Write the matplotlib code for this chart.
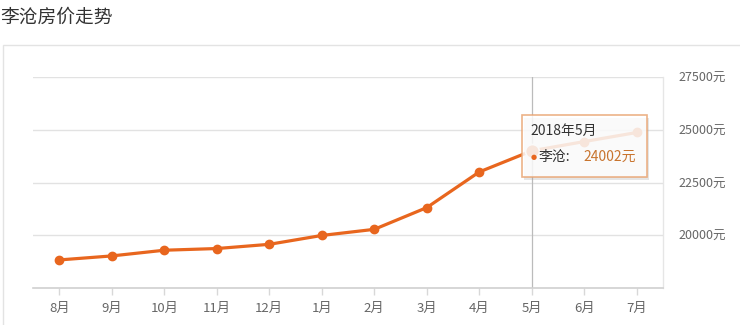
import matplotlib
matplotlib.use("Agg")
import matplotlib.pyplot as plt
from matplotlib.patches import Rectangle, FancyBboxPatch

plt.rcParams['font.family'] = ['Noto Sans CJK SC', 'DejaVu Sans']

title = "李沧房价走势"
months = ["8月", "9月", "10月", "11月", "12月", "1月", "2月", "3月", "4月", "5月", "6月", "7月"]
prices = [18830, 19020, 19290, 19370, 19570, 19990, 20280, 21310, 23000, 24002, 24440, 24870]
y_ticks = [20000, 22500, 25000, 27500]
y_tick_labels = [f"{v}元" for v in y_ticks]
hover_index = 9
hover_title = "2018年5月"
series_name = "李沧"

W, H = 740, 325
fig = plt.figure(figsize=(W / 100, H / 100), dpi=100)
fig.patch.set_facecolor("white")

def fx(px):
    return px / W

def fy(py):
    return 1 - py / H

# Panel frame
fig.add_artist(Rectangle((fx(3), fy(330)), fx(745) - fx(3), fy(45) - fy(330),
                         transform=fig.transFigure, fill=False,
                         edgecolor="#e3e3e3", linewidth=1.0))

fig.text(fx(0), fy(17), title, fontsize=13.5, color="#333333", va="center", ha="left")

left, right, top, bottom = 33, 663, 77, 288
ax = fig.add_axes([fx(left), fy(bottom), fx(right) - fx(left), fy(top) - fy(bottom)])
ax.set_facecolor("white")

x = list(range(len(months)))
color = "#e8661e"
ax.plot(x, prices, color=color, linewidth=2.3, marker="o", markersize=6,
        markerfacecolor=color, markeredgecolor=color, zorder=3, solid_capstyle="round")

ax.set_xlim(-0.5, len(months) - 0.5)
ax.set_ylim(17500, 27500)

ax.set_yticks(y_ticks)
ax.set_yticklabels(y_tick_labels)
ax.yaxis.tick_right()
ax.tick_params(axis="y", length=0, pad=11, labelsize=9, labelcolor="#666666")
for lbl in ax.get_yticklabels():
    lbl.set_horizontalalignment("left")
ax.grid(axis="y", color="#e2e2e2", linewidth=1.0)
ax.set_axisbelow(True)

ax.set_xticks(x)
ax.set_xticklabels(months)
ax.tick_params(axis="x", length=5, width=1, color="#d8d8d8", pad=5,
               labelsize=9.5, labelcolor="#666666")

for s in ["left", "top"]:
    ax.spines[s].set_visible(False)
ax.spines["bottom"].set_color("#d0d0d0")
ax.spines["bottom"].set_linewidth(1.2)
ax.spines["right"].set_color("#e6e6e6")
ax.spines["right"].set_linewidth(1.0)

# hover crosshair
ax.axvline(hover_index, color="#bbbbbb", linewidth=0.9, zorder=2)
ax.plot([hover_index], [prices[hover_index]], marker="o", markersize=10,
        color=color, markeredgecolor="white", markeredgewidth=1.2, zorder=4)

# Tooltip
tx0, ty0, tx1, ty1 = 522, 115, 647, 177
fig.add_artist(FancyBboxPatch((fx(tx0) + 0.003, fy(ty1) - 0.008), fx(tx1) - fx(tx0), fy(ty0) - fy(ty1),
                              boxstyle="square,pad=0", transform=fig.transFigure,
                              facecolor="#999999", edgecolor="none", alpha=0.25, zorder=5))
fig.add_artist(FancyBboxPatch((fx(tx0), fy(ty1)), fx(tx1) - fx(tx0), fy(ty0) - fy(ty1),
                              boxstyle="square,pad=0", transform=fig.transFigure,
                              facecolor="white", edgecolor="#e9a26e", linewidth=1.2,
                              alpha=0.82, zorder=6))
fig.text(fx(530), fy(131), hover_title, fontsize=10, color="#333333",
         va="center", ha="left", zorder=7)
fig.text(fx(531), fy(157), "●", fontsize=5, color=color, va="center", ha="left",
         family=["DejaVu Sans"], zorder=7)
fig.text(fx(539), fy(157), f"{series_name}:", fontsize=10, color="#333333",
         va="center", ha="left", zorder=7)
fig.text(fx(583), fy(157), f"{prices[hover_index]}元", fontsize=10, color="#c8742e",
         va="center", ha="left", zorder=7)

fig.savefig("out.png", dpi=100)
